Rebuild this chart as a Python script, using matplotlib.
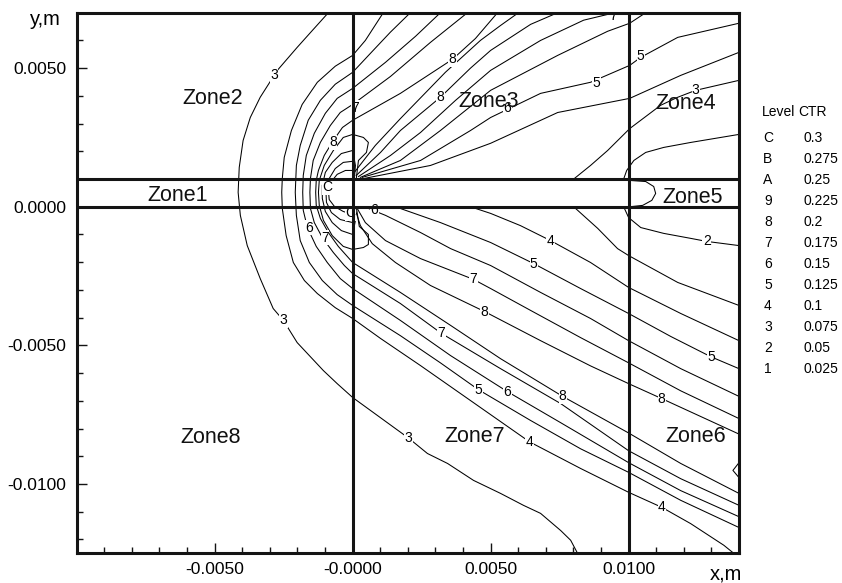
import matplotlib
matplotlib.use("Agg")
import matplotlib.pyplot as plt
from matplotlib.ticker import FixedLocator, FixedFormatter, MultipleLocator

plt.rcParams['font.family'] = ['Liberation Sans', 'DejaVu Sans']

# ---------------- data (coordinates in mm) ----------------
# contour lines (level label in name)
c3_x = [-0.88, -1.46, -2.01, -2.73, -3.35, -3.71, -3.97, -4.11, -4.15, -4.07, -3.82, -3.35, -2.88, -2.51, -2.01,
        -1.06, -0.56, 0.0, 1.01, 2.02, 2.71, 3.44, 4.38, 5.36, 6.19, 6.81, 7.54, 7.90, 8.15]
c3_y = [7.0, 6.36, 5.75, 4.92, 3.95, 3.22, 2.39, 1.42, 0.52, -0.31, -1.40, -2.59, -3.67, -4.10, -4.90,
        -5.91, -6.38, -6.88, -7.61, -8.34, -8.90, -9.26, -9.87, -10.34, -10.77, -11.06, -11.68, -12.03, -12.5]
c4_x = [1.11, 0.46, 0.0, -0.63, -1.28, -1.83, -2.22, -2.48, -2.55, -2.57, -2.55, -2.41, -2.15, -1.75, -1.28,
        -0.63, 0.0, 1.01, 2.46, 4.27, 6.41, 8.26, 10.0, 11.20, 12.25, 13.45, 13.81]
c4_y = [7.0, 6.00, 5.46, 5.07, 4.49, 3.69, 2.75, 1.78, 1.02, 0.52, -0.06, -1.04, -2.01, -2.66, -3.13,
        -3.64, -4.03, -4.75, -5.73, -6.99, -8.48, -9.44, -10.30, -10.84, -11.43, -12.21, -12.5]
c5_x = [2.09, 1.37, 0.82, 0.0, -0.63, -1.17, -1.61, -1.90, -2.04, -2.08, -2.04, -1.90, -1.57, -1.10, -0.56,
        0.0, 1.73, 3.18, 4.56, 6.45, 8.26, 10.0, 11.89, 14.0]
c5_y = [7.0, 6.30, 5.72, 4.85, 4.42, 3.84, 3.12, 2.21, 1.49, 0.52, -0.31, -1.22, -2.01, -2.66, -3.17,
        -3.56, -4.65, -5.63, -6.60, -7.71, -8.73, -9.58, -10.59, -11.57]
c6_x = [3.18, 2.28, 1.19, 0.0, -0.56, -0.99, -1.39, -1.68, -1.79, -1.81, -1.79, -1.64, -1.32, -0.92, -0.45,
        0.0, 1.73, 3.55, 5.61, 7.54, 10.0, 11.89, 14.0]
c6_y = [7.0, 6.15, 5.21, 4.27, 3.91, 3.37, 2.65, 1.85, 1.13, 0.52, -0.13, -0.75, -1.43, -2.01, -2.59,
        -2.95, -4.10, -5.37, -6.67, -7.79, -9.23, -10.24, -11.18]
c7_x = [4.16, 2.82, 1.37, 0.0, -0.45, -0.81, -1.17, -1.43, -1.53, -1.55, -1.53, -1.39, -1.10, -0.70, -0.30,
        0.0, 1.73, 3.22, 5.36, 7.54, 10.0, 11.89, 14.0]
c7_y = [7.0, 5.93, 4.70, 3.69, 3.40, 2.93, 2.32, 1.67, 1.02, 0.52, -0.06, -0.57, -1.11, -1.65, -2.12,
        -2.41, -3.49, -4.57, -5.84, -7.10, -8.80, -9.81, -10.77]
c8_x = [5.25, 4.45, 3.62, 1.73, 0.0, -0.37, -0.70, -1.03, -1.24, -1.32, -1.34, -1.32, -1.17, -0.88, -0.52,
        0.0, 1.73, 3.55, 5.36, 7.61, 10.0, 11.89, 14.0]
c8_y = [7.0, 6.07, 5.32, 4.09, 3.12, 2.86, 2.39, 1.85, 1.31, 0.95, 0.52, 0.05, -0.42, -0.93, -1.43,
        -2.01, -3.09, -4.28, -5.48, -6.84, -8.16, -9.26, -10.34]
c9_x = [0.13, 0.21, 0.50, 0.57, 0.39, 0.0, -0.34, -0.70, -1.03, -1.21, -1.24, -1.21, -1.06, -0.74, -0.34,
        0.0, 0.39, 0.57, 0.57, 0.24, 0.13]
c9_y = [1.0, 1.67, 1.96, 2.32, 2.50, 2.61, 2.50, 2.03, 1.49, 0.95, 0.52, 0.05, -0.49, -1.04, -1.43,
        -1.54, -1.47, -1.36, -1.00, -0.71, 0.0]
cA_x = [0.06, 0.10, 0.0, -0.41, -0.74, -0.99, -1.10, -1.10, -0.99, -0.74, -0.41, 0.0, 0.10, 0.06]
cA_y = [1.0, 1.49, 2.03, 1.92, 1.60, 1.24, 0.77, 0.30, -0.17, -0.57, -0.86, -1.00, -0.49, 0.0]
cB_x = [0.03, 0.0, -0.34, -0.63, -0.85, -0.97, -0.95, -0.77, -0.45, 0.0, 0.03]
cB_y = [1.0, 1.64, 1.60, 1.38, 1.02, 0.59, 0.16, -0.21, -0.46, -0.57, 0.0]
cC_x = [0.03, 0.0, -0.26, -0.56, -0.77, -0.88, -0.85, -0.66, -0.34, 0.0, 0.03]
cC_y = [1.0, 1.31, 1.31, 1.17, 0.91, 0.59, 0.26, 0.01, -0.17, -0.28, 0.0]
# upper fan (zone 3 / zone 4)
r9_x = [0.06, 0.82, 1.73, 3.36, 4.63, 5.36, 6.01]
r9_y = [1.24, 2.21, 3.18, 4.85, 6.00, 6.54, 7.0]
d8_x = [0.13, 1.01, 1.73, 3.18, 4.27, 5.00, 6.45, 7.43]
d8_y = [1.13, 1.96, 2.75, 3.95, 5.00, 5.64, 6.58, 7.0]
d7_x = [0.21, 1.37, 2.46, 3.73, 5.00, 6.81, 8.37, 9.50]
d7_y = [1.09, 1.85, 2.68, 3.84, 4.92, 6.00, 6.73, 7.0]
d6_x = [0.28, 1.73, 3.18, 5.00, 7.43, 9.24, 10.04, 10.62]
d6_y = [1.06, 1.67, 2.75, 4.20, 5.46, 6.33, 6.62, 7.0]
d5_x = [0.35, 2.46, 4.27, 5.00, 6.81, 8.62, 10.04, 10.44, 11.78, 14.0]
d5_y = [1.06, 1.67, 2.75, 3.22, 4.09, 4.49, 5.10, 5.39, 6.11, 6.62]
d4_x = [0.46, 2.82, 5.00, 7.43, 10.04, 11.89, 14.0]
d4_y = [1.03, 1.49, 2.29, 3.40, 3.91, 4.74, 5.57]
p3_x = [8.01, 8.62, 9.24, 10.04, 11.16, 11.78, 12.43, 14.0]
p3_y = [1.0, 1.49, 2.03, 2.82, 3.66, 3.95, 4.20, 4.56]
p2_x = [9.82, 9.93, 10.19, 10.62, 11.27, 12.25, 14.0]
p2_y = [1.0, 1.31, 1.67, 1.96, 2.14, 2.32, 2.61]
bump_x = [10.04, 10.62, 10.91, 10.98, 10.84, 10.51, 10.04]
bump_y = [0.95, 0.91, 0.73, 0.48, 0.23, 0.05, 0.0]
# lower fan (zone 7 / zone 6)
a8_x = [0.06, 0.28, 0.71, 1.55, 2.82, 4.78, 6.81, 8.62, 10.0, 11.20, 14.0]
a8_y = [0.0, -0.68, -1.33, -2.01, -2.84, -3.78, -4.83, -5.74, -6.38, -6.92, -8.20]
a7_x = [0.13, 0.46, 1.19, 2.46, 4.38, 5.00, 6.45, 8.26, 10.0, 11.89, 14.0]
a7_y = [0.0, -0.57, -1.22, -1.87, -2.62, -2.95, -3.74, -4.72, -5.63, -6.64, -7.64]
a6_x = [0.42, 1.19, 2.46, 3.55, 5.00, 6.81, 8.62, 10.0, 11.89, 14.0]
a6_y = [0.0, -0.31, -0.93, -1.51, -2.12, -3.09, -4.03, -4.83, -5.84, -6.84]
a5_x = [1.55, 3.18, 5.00, 6.56, 8.26, 10.0, 11.53, 12.98, 14.0]
a5_y = [0.0, -0.57, -1.29, -2.05, -2.95, -3.85, -4.68, -5.41, -5.84]
a4_x = [4.27, 5.00, 6.08, 7.17, 8.62, 10.0, 11.89, 14.0]
a4_y = [0.0, -0.24, -0.68, -1.22, -2.01, -2.91, -3.85, -4.83]
a3_x = [8.01, 8.88, 9.60, 10.0, 11.78, 14.0]
a3_y = [0.0, -0.78, -1.51, -1.76, -2.73, -3.56]
a2_x = [9.82, 10.0, 10.44, 11.27, 12.25, 12.83, 14.0]
a2_y = [0.0, -0.39, -0.75, -0.96, -1.14, -1.25, -1.40]
tri_x = [14.0, 13.78, 14.0]
tri_y = [-9.23, -9.51, -9.77]

contour_lines = [(c3_x, c3_y), (c4_x, c4_y), (c5_x, c5_y), (c6_x, c6_y), (c7_x, c7_y), (c8_x, c8_y),
                 (c9_x, c9_y), (cA_x, cA_y), (cB_x, cB_y), (cC_x, cC_y),
                 (r9_x, r9_y), (d8_x, d8_y), (d7_x, d7_y), (d6_x, d6_y), (d5_x, d5_y), (d4_x, d4_y),
                 (p3_x, p3_y), (p2_x, p2_y), (bump_x, bump_y),
                 (a8_x, a8_y), (a7_x, a7_y), (a6_x, a6_y), (a5_x, a5_y), (a4_x, a4_y), (a3_x, a3_y),
                 (a2_x, a2_y), (tri_x, tri_y)]

# contour labels
label_text = ['3', '3', '3', '3', '8', '8', '8', '8', '8', '8', '7', '7', '7', '7', '7',
              '6', '6', '6', '6', '5', '5', '5', '5', '5', '4', '4', '4', '2', 'C', 'C']
label_x = [-2.84, -2.51, 2.02, 12.43, -0.70, 3.62, 3.18, 7.61, 4.78, 11.20, 0.10, -0.99, 3.22, 4.38, 9.45,
           -1.57, 5.61, 0.79, 5.61, 8.84, 10.44, 6.56, 4.56, 12.98, 7.17, 6.41, 11.20, 12.83, -0.92, -0.08]
label_y = [4.74, -4.10, -8.34, 4.20, 2.32, 5.32, 3.95, -6.84, -3.78, -6.92, 3.58, -1.11, -4.57, -2.62, 6.88,
           -0.75, 3.55, -0.10, -6.67, 4.45, 5.43, -2.05, -6.60, -5.41, -1.22, -8.48, -10.84, -1.25, 0.70, -0.24]

# zone boundaries (m)
zone_x = [0.0, 0.010]
zone_y = [0.0, 0.001]

# axis ticks
xticks = [-0.005, 0.0, 0.005, 0.010]
xtick_labels = ['-0.0050', '-0.0000', '0.0050', '0.0100']
yticks = [0.005, 0.0, -0.005, -0.010]
ytick_labels = ['0.0050', '0.0000', '-0.0050', '-0.0100']

# legend table
legend_levels = ['C', 'B', 'A', '9', '8', '7', '6', '5', '4', '3', '2', '1']
legend_ctr = [0.3, 0.275, 0.25, 0.225, 0.2, 0.175, 0.15, 0.125, 0.1, 0.075, 0.05, 0.025]

MM = 1e-3

# ---------------- figure ----------------
W, H = 842, 583
fig = plt.figure(figsize=(W / 100, H / 100), dpi=100)
ax = fig.add_axes([76.7 / W, 1 - 553.3 / H, (739 - 76.7) / W, (553.3 - 12.7) / H])
ax.set_xlim(-0.010, 0.014)
ax.set_ylim(-0.0125, 0.007)

for xs, ys in contour_lines:
    ax.plot([v * MM for v in xs], [v * MM for v in ys], color='black', lw=0.75, zorder=2)

for t, x, y in zip(label_text, label_x, label_y):
    ax.text(x * MM, y * MM, t, fontsize=10, ha='center', va='center', zorder=3, clip_on=True,
            bbox=dict(boxstyle='square,pad=0.02', fc='white', ec='none'))

for xv in zone_x:
    ax.axvline(xv, color='#141414', lw=2.2, zorder=4)
for yv in zone_y:
    ax.axhline(yv, color='#141414', lw=2.2, zorder=4)

zone_names = [('Zone1', -6.34, 0.41), ('Zone2', -5.07, 3.91), ('Zone3', 4.91, 3.78), ('Zone4', 12.07, 3.73),
              ('Zone5', 12.33, 0.35), ('Zone6', 12.42, -8.28), ('Zone7', 4.42, -8.28), ('Zone8', -5.16, -8.32)]
for name, zx, zy in zone_names:
    ax.text(zx * MM, zy * MM, name, fontsize=15.5, ha='center', va='center', zorder=5, color='#111111')

for s in ax.spines.values():
    s.set_linewidth(2.2)
    s.set_color('#141414')
    s.set_zorder(6)

ax.xaxis.set_major_locator(FixedLocator(xticks))
ax.xaxis.set_major_formatter(FixedFormatter(xtick_labels))
ax.yaxis.set_major_locator(FixedLocator(yticks))
ax.yaxis.set_major_formatter(FixedFormatter(ytick_labels))
ax.xaxis.set_minor_locator(MultipleLocator(0.001))
ax.yaxis.set_minor_locator(MultipleLocator(0.001))
ax.tick_params(which='both', direction='in', top=False, right=False, width=1.0, color='#141414')
ax.tick_params(which='major', length=7.5, labelsize=12.5)
ax.tick_params(which='minor', length=4)
ax.tick_params(axis='x', which='major', pad=6.5)
ax.tick_params(axis='y', which='major', pad=7.5)

fig.text(45 / W, 1 - 25 / H, 'y,m', fontsize=14.5, ha='center', va='baseline')
fig.text(726 / W, 1 - 580 / H, 'x,m', fontsize=14.5, ha='center', va='baseline')

# legend table
fig.text(762 / W, 1 - 112 / H, 'Level', fontsize=10, ha='left', va='center')
fig.text(798 / W, 1 - 112 / H, 'CTR', fontsize=10, ha='left', va='center')
for i, (lv, v) in enumerate(zip(legend_levels, legend_ctr)):
    yy = 1 - (138 + 21 * i) / H
    fig.text(768 / W, yy, lv, fontsize=10, ha='center', va='center')
    fig.text(803 / W, yy, f'{v:g}', fontsize=10, ha='left', va='center')

fig.savefig('out.png', dpi=100)
